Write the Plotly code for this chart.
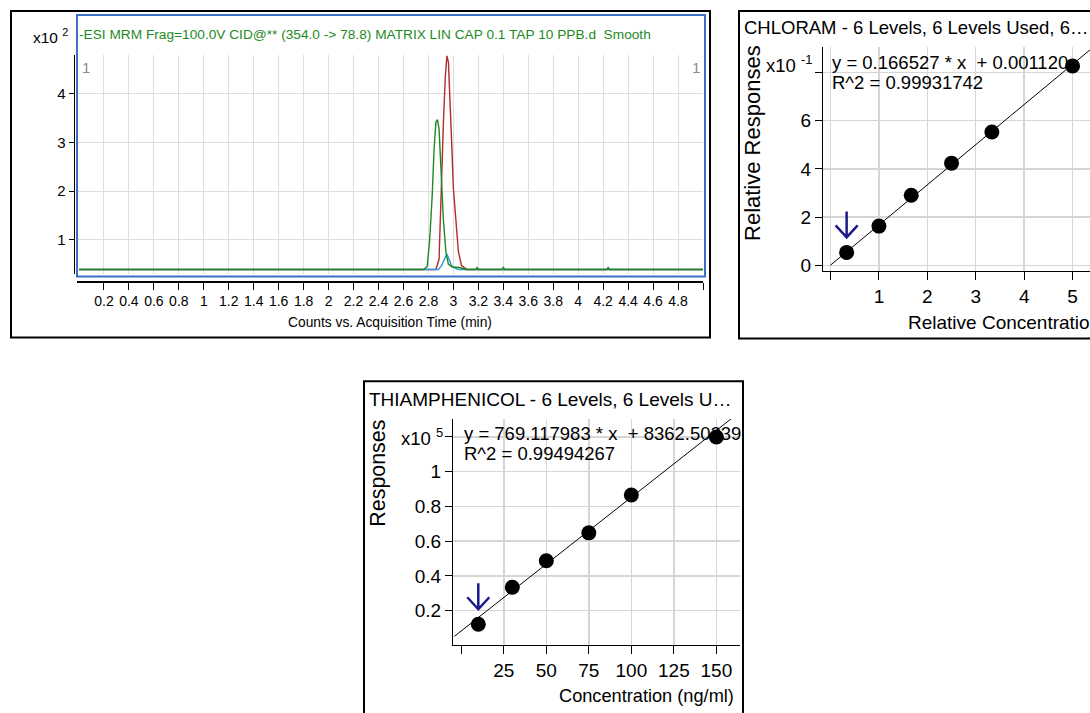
import plotly.graph_objects as go

# ---------------- data ----------------
# Chromatogram (time in min, counts in x10^2)
green_t = [0.0, 2.76, 2.79, 2.81, 2.83, 2.845, 2.86, 2.872, 2.885, 2.90, 2.92, 2.94, 2.96, 2.99, 3.05, 3.10,
           3.18, 3.19, 3.20, 3.39, 3.40, 3.41, 4.23, 4.24, 4.25, 5.0]
green_v = [0.39, 0.39, 0.45, 1.0, 1.9, 2.85, 3.42, 3.47, 3.28, 2.4, 1.4, 0.75, 0.5, 0.44, 0.43, 0.39,
           0.39, 0.43, 0.39, 0.39, 0.44, 0.39, 0.39, 0.43, 0.39, 0.39]
red_t = [0.0, 2.86, 2.885, 2.905, 2.92, 2.935, 2.948, 2.96, 2.97, 2.985, 3.0, 3.02, 3.04, 3.065, 3.09, 3.11, 5.0]
red_v = [0.39, 0.39, 0.6, 2.4, 3.4, 4.35, 4.78, 4.65, 4.1, 3.07, 2.05, 1.3, 0.76, 0.47, 0.43, 0.39, 0.39]
blue_t = [0.0, 2.88, 2.905, 2.93, 2.948, 2.962, 2.985, 3.02, 3.04, 5.0]
blue_v = [0.39, 0.39, 0.47, 0.6, 0.71, 0.62, 0.47, 0.41, 0.39, 0.39]
chrom_xticks = [round(0.2 * i, 1) for i in range(1, 26)]
chrom_xlabels = [("%g" % v) if v < 4.9 else "" for v in chrom_xticks]
chrom_yticks = [1, 2, 3, 4]

# CHLORAM calibration (relative responses in x10^-1)
chl_conc = [0.333, 1.0, 1.667, 2.5, 3.333, 5.0]
chl_resp = [0.54, 1.63, 2.91, 4.24, 5.53, 8.27]
chl_slope, chl_icpt = 0.166527, 0.001120      # real units
chl_fit_x = [0.0, 5.6]
chl_xticks = [0, 1, 2, 3, 4, 5]
chl_xlabels = ["", "1", "2", "3", "4", "5"]
chl_yticks = [0, 2, 4, 6, 8]
chl_ylabels = ["0", "2", "4", "6", ""]

# THIAMPHENICOL calibration (responses in x10^5)
thi_conc = [10, 30, 50, 75, 100, 150]
thi_resp = [0.122, 0.335, 0.487, 0.648, 0.866, 1.20]
thi_slope, thi_icpt = 769.117983, 8362.50239  # real units
thi_fit_x = [-4.0, 170.0]
thi_xticks = [25, 50, 75, 100, 125, 150]
thi_xlabels = ["25", "50", "75", "100", "125", "150"]
thi_xzero = [0]
thi_yticks = [0.2, 0.4, 0.6, 0.8, 1.0, 1.2]
thi_ylabels = ["0.2", "0.4", "0.6", "0.8", "1", ""]

# ---------------- layout helpers ----------------
W, H = 1090, 713
def px(x): return x / W
def py(y): return 1 - y / H

SANS = "Liberation Sans, Arial, sans-serif"
GRID = "#d6d6d6"

fig = go.Figure()

# chromatogram traces
fig.add_trace(go.Scatter(x=red_t, y=red_v, mode="lines", line=dict(color="#b22a2a", width=1.4),
                         xaxis="x", yaxis="y", showlegend=False, hoverinfo="skip"))
fig.add_trace(go.Scatter(x=blue_t, y=blue_v, mode="lines", line=dict(color="#2e9be6", width=1.4),
                         xaxis="x", yaxis="y", showlegend=False, hoverinfo="skip"))
fig.add_trace(go.Scatter(x=green_t, y=green_v, mode="lines", line=dict(color="#1e8a1e", width=1.4),
                         xaxis="x", yaxis="y", showlegend=False, hoverinfo="skip"))

# CHLORAM
chl_fit_y = [(chl_slope * x + chl_icpt) * 10 for x in chl_fit_x]
fig.add_trace(go.Scatter(x=chl_fit_x, y=chl_fit_y, mode="lines", line=dict(color="black", width=1),
                         xaxis="x2", yaxis="y2", showlegend=False, hoverinfo="skip"))
fig.add_trace(go.Scatter(x=chl_conc, y=chl_resp, mode="markers", marker=dict(color="black", size=15),
                         xaxis="x2", yaxis="y2", showlegend=False, cliponaxis=False))

# THIAMPHENICOL
thi_fit_y = [(thi_slope * x + thi_icpt) / 1e5 for x in thi_fit_x]
fig.add_trace(go.Scatter(x=thi_fit_x, y=thi_fit_y, mode="lines", line=dict(color="black", width=1),
                         xaxis="x3", yaxis="y3", showlegend=False, hoverinfo="skip"))
fig.add_trace(go.Scatter(x=thi_conc, y=thi_resp, mode="markers", marker=dict(color="black", size=15),
                         xaxis="x3", yaxis="y3", showlegend=False, cliponaxis=False))

axis_common = dict(showline=True, linecolor="black", linewidth=1, ticks="outside", tickcolor="black",
                   tickwidth=1, showgrid=True, gridcolor=GRID, gridwidth=1.5, zeroline=False, fixedrange=True)

thi_xrange = [-4.88, 163.9]
fig.update_layout(
    width=W, height=H, margin=dict(l=0, r=0, t=0, b=0),
    paper_bgcolor="white", plot_bgcolor="white", showlegend=False,
    xaxis=dict(axis_common, domain=[px(77), px(703)], range=[-0.016, 5.0], anchor="free", position=py(283),
               tickmode="array", tickvals=chrom_xticks, ticktext=chrom_xlabels, ticklen=7,
               linewidth=1.5, gridwidth=1, gridcolor="#dedede",
               tickfont=dict(family=SANS, size=14, color="black")),
    yaxis=dict(axis_common, domain=[py(276), py(55)], range=[0.296, 4.806], anchor="free", position=px(73.5),
               linewidth=1.5, tickmode="array", tickvals=chrom_yticks, ticklen=5, gridwidth=1,
               gridcolor="#dedede", tickfont=dict(family=SANS, size=15, color="black")),
    xaxis2=dict(axis_common, domain=[px(823), 1.0], range=[-0.155, 5.36], anchor="y2",
                tickmode="array", tickvals=chl_xticks, ticktext=chl_xlabels, ticklen=8,
                tickfont=dict(family=SANS, size=19, color="black")),
    yaxis2=dict(axis_common, domain=[py(273), py(47)], range=[-0.235, 9.07], anchor="x2",
                tickmode="array", tickvals=chl_yticks, ticktext=chl_ylabels, ticklen=7,
                tickfont=dict(family=SANS, size=19, color="black")),
    xaxis3=dict(axis_common, domain=[px(453), px(740)], range=thi_xrange, anchor="y3",
                tickmode="array", tickvals=thi_xticks, ticktext=thi_xlabels, ticklen=8,
                tickfont=dict(family=SANS, size=19, color="black")),
    xaxis4=dict(domain=[px(453), px(740)], range=thi_xrange, anchor="y3", overlaying="x3",
                showline=False, showgrid=False, zeroline=False, ticks="outside", ticklen=8,
                tickcolor="black", tickmode="array", tickvals=thi_xzero, ticktext=[""], fixedrange=True),
    yaxis3=dict(axis_common, domain=[py(650), py(422)], range=[0.0, 1.303], anchor="x3",
                tickmode="array", tickvals=thi_yticks, ticktext=thi_ylabels, ticklen=7,
                tickfont=dict(family=SANS, size=19, color="black")),
)
# invisible trace to activate the overlay axis
fig.add_trace(go.Scatter(x=thi_xzero, y=[None], mode="markers", xaxis="x4", yaxis="y3",
                         showlegend=False, hoverinfo="skip"))

# ---------------- shapes ----------------
shapes = [
    dict(type="rect", xref="paper", yref="paper", x0=px(11), x1=px(710), y0=py(340), y1=py(11),
         line=dict(color="black", width=2)),
    dict(type="rect", xref="paper", yref="paper", x0=px(77), x1=px(705), y0=py(278.5), y1=py(15),
         line=dict(color="#3d6fc6", width=2)),
    dict(type="rect", xref="paper", yref="paper", x0=px(739), x1=px(1095), y0=py(341), y1=py(11),
         line=dict(color="black", width=2)),
    dict(type="rect", xref="paper", yref="paper", x0=px(364), x1=px(743), y0=py(720), y1=py(384),
         line=dict(color="black", width=2)),
]
arrow_path = "M0,41 L0,15 M-11,27 L0,15 L11,27"
shapes.append(dict(type="path", xref="x2", yref="y2", xsizemode="pixel", ysizemode="pixel",
                   xanchor=chl_conc[0], yanchor=chl_resp[0], path=arrow_path,
                   line=dict(color="#1a1a8c", width=2.5)))
shapes.append(dict(type="path", xref="x3", yref="y3", xsizemode="pixel", ysizemode="pixel",
                   xanchor=thi_conc[0], yanchor=thi_resp[0], path=arrow_path,
                   line=dict(color="#1a1a8c", width=2.5)))
fig.update_layout(shapes=shapes)

# ---------------- annotations ----------------
def ann(x, y, text, size, family=SANS, color="black", xanchor="left", angle=0):
    return dict(xref="paper", yref="paper", x=px(x), y=py(y), text=text, showarrow=False,
                xanchor=xanchor, yanchor="middle", textangle=angle,
                font=dict(family=family, size=size, color=color))

NB = "\u00a0"
annotations = [
    ann(77, 35, "-ESI MRM Frag=100.0V CID@** (354.0 -> 78.8) MATRIX LIN CAP 0.1 TAP 10 PPB.d" + NB + " Smooth",
        13.7, color="#1e8a1e"),
    ann(70, 36, "x10 <sup>2</sup>", 15.5, xanchor="right"),
    ann(80, 68, "1", 15, color="#8c8c8c"),
    ann(702, 68, "1", 15, color="#8c8c8c", xanchor="right"),
    ann(390, 325, "Counts vs. Acquisition Time (min)", 13.8, xanchor="center"),

    ann(742, 28, "CHLORAM - 6 Levels, 6 Levels Used, 6\u2026", 18.5),
    ann(814, 64, "x10 <sup>-1</sup>", 18.5, xanchor="right"),
    ann(753, 144, "Relative Responses", 22, xanchor="center", angle=-90),
    ann(830, 63, "y = 0.166527 * x " + NB + "+ 0.001120", 18.5),
    ann(830, 83, "R^2 = 0.99931742", 18.5),
    ann(906, 325, "Relative Concentration", 19),

    ann(367, 402, "THIAMPHENICOL - 6 Levels, 6 Levels U\u2026", 19),
    ann(445, 440, "x10 <sup>5</sup>", 18.5, xanchor="right"),
    ann(378, 477, "Responses", 21.4, xanchor="center", angle=-90),
    ann(462, 437, "y = 769.117983 * x " + NB + "+ 8362.50239", 18.5),
    ann(462, 457, "R^2 = 0.99494267", 18.5),
    ann(736, 701, "Concentration (ng/ml)", 18.2, xanchor="right"),
]
fig.update_layout(annotations=annotations)

fig.write_html("out.html", config={"displayModeBar": False, "staticPlot": True},
               post_script="document.body.style.margin='0';document.body.style.padding='0';"
                           "document.body.style.overflow='hidden';")
